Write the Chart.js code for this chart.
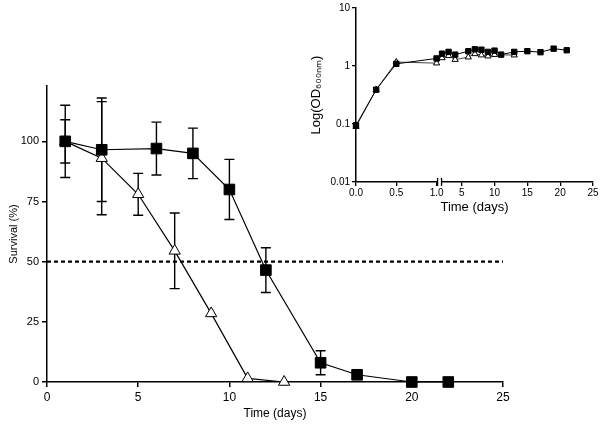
<!DOCTYPE html>
<html>
<head>
<meta charset="utf-8">
<script src="https://cdn.jsdelivr.net/npm/chart.js@4.4.0/dist/chart.umd.min.js"></script>
<style>
  html, body { margin: 0; padding: 0; background: #fff; }
  #wrap { position: relative; width: 600px; height: 424px; }
  #main { position: absolute; left: 0; top: 0; }
  #inset { position: absolute; left: 290px; top: 0; }
</style>
</head>
<body>
<div id="wrap">
  <canvas id="main" width="600" height="424" style="width:600px;height:424px"></canvas>
  <canvas id="inset" width="310" height="215" style="width:310px;height:215px"></canvas>
</div>
<script>
// survival (main panel)
const sqDays = [1, 3, 6, 8, 10, 12, 15, 17, 20, 22];
const sqSurvival = [100, 96.5, 97, 95, 80, 46.5, 8, 3, 0, 0];
const sqErr = [15, 21.5, 11, 10.5, 12.5, 9.3, 5, null, null, null];

const triDays = [1, 3, 5, 7, 9, 11, 13];
const triSurvival = [100, 93, 78, 54.5, 28.5, 1.5, 0];
const triErr = [9, 23.5, 8.7, 15.7, null, null, null];

const halfDays = [0, 25];
const halfLine = [50, 50];
const survTicks = [0, 25, 50, 75, 100];
const dayTicks = [0, 5, 10, 15, 20, 25];

// growth (inset)
const growSqDays = [0, 0.25, 0.5, 1, 2, 3, 4, 6, 7, 8, 9, 10, 11, 13, 15, 17, 19, 21];
const growSqOD = [0.095, 0.39, 1.09, 1.35, 1.63, 1.75, 1.57, 1.80, 1.94, 1.91, 1.75, 1.84, 1.57, 1.75, 1.80, 1.73, 1.99, 1.87];
const growTriDays = [0, 0.25, 0.5, 1, 2, 3, 4, 6, 7, 8, 9, 10, 13];
const growTriOD = [0.09, 0.39, 1.17, 1.12, 1.38, 1.5, 1.29, 1.42, 1.62, 1.54, 1.48, 1.57, 1.54];
const insetDayTicks = [0, 0.5, 1, 5, 10, 15, 20, 25];
const insetDayLabels = ['0.0', '0.5', '1.0', '5', '10', '15', '20', '25'];
const odTicks = [0.01, 0.1, 1, 10];
const odLabels = ['0.01', '0.1', '1', '10'];

const FONT = 'Liberation Sans, Arial, sans-serif';
const pts = (xs, ys) => xs.map((x, i) => ({ x: x, y: ys[i] }));

// error bars drawn with the chart's own scales
const errorBars = {
  id: 'errorBars',
  beforeDatasetsDraw(chart) {
    const { ctx, scales: { x, y } } = chart;
    ctx.save();
    ctx.strokeStyle = '#000';
    ctx.lineWidth = 1.4;
    chart.data.datasets.forEach(ds => {
      if (!ds.errors) return;
      ds.data.forEach((p, j) => {
        const e = ds.errors[j];
        if (e == null) return;
        const px = x.getPixelForValue(p.x);
        const top = y.getPixelForValue(p.y + e);
        const bot = y.getPixelForValue(p.y - e);
        ctx.beginPath();
        ctx.moveTo(px, top); ctx.lineTo(px, bot);
        ctx.moveTo(px - 5, top); ctx.lineTo(px + 5, top);
        ctx.moveTo(px - 5, bot); ctx.lineTo(px + 5, bot);
        ctx.stroke();
      });
    });
    ctx.restore();
  }
};

new Chart(document.getElementById('main'), {
  type: 'line',
  data: {
    datasets: [
      {
        data: pts(sqDays, sqSurvival), errors: sqErr,
        borderColor: '#000', borderWidth: 1.2,
        pointStyle: 'rect', pointRadius: 7.5,
        pointBackgroundColor: '#000', pointBorderColor: '#000', pointBorderWidth: 1,
        clip: false
      },
      {
        data: pts(triDays, triSurvival), errors: triErr,
        borderColor: '#000', borderWidth: 1.2,
        pointStyle: 'triangle', pointRadius: 6.5,
        pointBackgroundColor: '#fff', pointBorderColor: '#000', pointBorderWidth: 1,
        clip: false
      },
      {
        data: pts(halfDays, halfLine),
        borderColor: '#000', borderWidth: 2.2, borderDash: [4, 3],
        pointRadius: 0, clip: false
      }
    ]
  },
  options: {
    responsive: false,
    animation: false,
    events: [],
    layout: { padding: { left: 0, right: 97, top: 86, bottom: 0 } },
    plugins: { legend: { display: false }, tooltip: { enabled: false } },
    scales: {
      x: {
        type: 'linear', min: 0, max: 25,
        afterBuildTicks: s => { s.ticks = dayTicks.map(v => ({ value: v })); },
        afterFit: s => { s.height = 42; },
        grid: { display: true, drawOnChartArea: false, drawTicks: true, tickLength: 5, color: '#000', lineWidth: 1.5 },
        border: { display: true, color: '#000', width: 1.5 },
        ticks: { color: '#000', padding: 3, maxRotation: 0, autoSkip: false, font: { family: FONT, size: 12 } },
        title: { display: true, text: 'Time (days)', color: '#000', padding: { top: 0, bottom: 3 }, font: { family: FONT, size: 12 } }
      },
      y: {
        type: 'linear', min: 0, max: 123,
        afterBuildTicks: s => { s.ticks = survTicks.map(v => ({ value: v })); },
        afterFit: s => { s.width = 47; },
        grid: { display: true, drawOnChartArea: false, drawTicks: true, tickLength: 5, color: '#000', lineWidth: 1.5 },
        border: { display: true, color: '#000', width: 1.5 },
        ticks: { color: '#000', padding: 3, font: { family: FONT, size: 11 } },
        title: { display: true, text: 'Survival (%)', color: '#000', padding: { top: 7, bottom: 0 }, font: { family: FONT, size: 11 } }
      }
    }
  },
  plugins: [errorBars]
});

// x scale with a break between 1 and 2 days
class BrokenLinearScale extends Chart.LinearScale {
  getPixelForValue(value) {
    const end1 = this.width * 0.34;
    const start2 = this.width * 0.363;
    if (value <= 1) return this.left + end1 * value;
    return this.left + start2 + (this.width - start2) * (value - 2) / (25 - 2);
  }
}
BrokenLinearScale.id = 'brokenLinear';
BrokenLinearScale.defaults = {};
Chart.register(BrokenLinearScale);

const axisBreak = {
  id: 'axisBreak',
  afterDraw(chart) {
    const x = chart.scales.x, ctx = chart.ctx;
    const a = x.getPixelForValue(1) + 1, b = x.getPixelForValue(2) - 0.5;
    const yb = x.top;
    ctx.save();
    ctx.clearRect(a, yb - 2, b - a, 4);
    ctx.strokeStyle = '#000';
    ctx.lineWidth = 1.3;
    ctx.beginPath();
    ctx.moveTo(a, yb - 4); ctx.lineTo(a, yb + 4);
    ctx.moveTo(b, yb - 4); ctx.lineTo(b, yb + 4);
    ctx.stroke();
    ctx.restore();
  }
};

new Chart(document.getElementById('inset'), {
  type: 'line',
  data: {
    datasets: [
      {
        data: pts(growSqDays, growSqOD),
        borderColor: '#000', borderWidth: 1,
        pointStyle: 'rect', pointRadius: 3.8,
        pointBackgroundColor: '#000', pointBorderColor: '#000', pointBorderWidth: 1,
        clip: false
      },
      {
        data: pts(growTriDays, growTriOD),
        borderColor: '#444', borderWidth: 1,
        pointStyle: 'triangle', pointRadius: 3.6,
        pointBackgroundColor: '#fff', pointBorderColor: '#000', pointBorderWidth: 1,
        clip: false
      }
    ]
  },
  options: {
    responsive: false,
    animation: false,
    events: [],
    layout: { padding: { left: 0, right: 7, top: 5, bottom: 0 } },
    plugins: { legend: { display: false }, tooltip: { enabled: false } },
    scales: {
      x: {
        type: 'brokenLinear', min: 0, max: 25,
        afterBuildTicks: s => { s.ticks = insetDayTicks.map(v => ({ value: v })); },
        afterFit: s => { s.height = 33; },
        grid: { display: true, drawOnChartArea: false, drawTicks: true, tickLength: 4, color: '#000', lineWidth: 1.3 },
        border: { display: true, color: '#000', width: 1.5 },
        ticks: { color: '#000', padding: 1, maxRotation: 0, autoSkip: false, font: { family: FONT, size: 10 },
                 callback: (v, i) => insetDayLabels[i] },
        title: { display: true, text: 'Time (days)', color: '#000', padding: { top: 0, bottom: 0 }, font: { family: FONT, size: 13 } }
      },
      y: {
        type: 'logarithmic', min: 0.01, max: 10,
        afterBuildTicks: s => { s.ticks = odTicks.map(v => ({ value: v })); },
        afterFit: s => { s.width = 66; },
        grid: { display: true, drawOnChartArea: false, drawTicks: true, tickLength: 4, color: '#000', lineWidth: 1.3 },
        border: { display: true, color: '#000', width: 1.5 },
        ticks: { color: '#000', padding: 2, font: { family: FONT, size: 10 },
                 callback: (v, i) => odLabels[i] },
        title: { display: true, text: 'Log(OD₆₀₀ₙₘ)', color: '#000', padding: { top: 19, bottom: 0 }, font: { family: FONT, size: 13 } }
      }
    }
  },
  plugins: [axisBreak]
});
</script>
</body>
</html>
